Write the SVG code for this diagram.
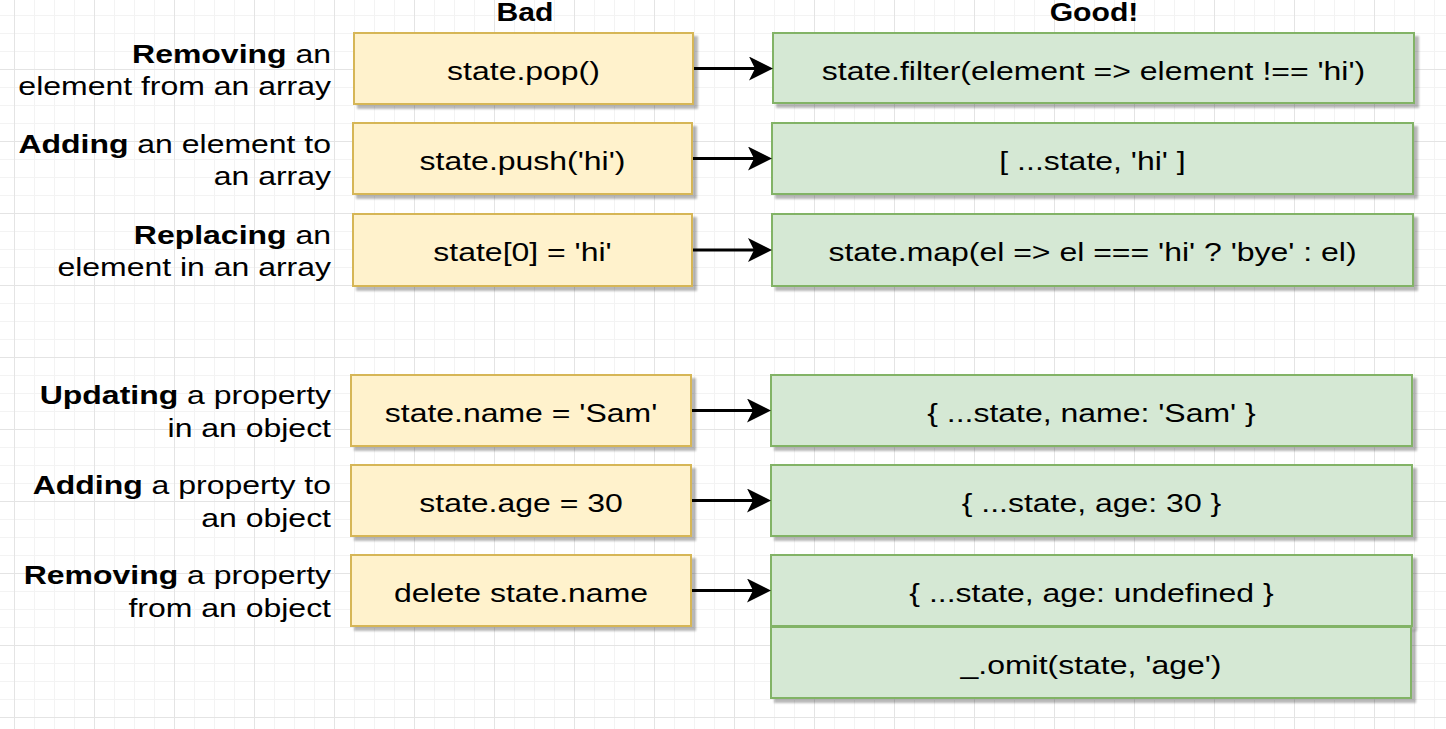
<svg xmlns="http://www.w3.org/2000/svg" width="1446" height="729" viewBox="0 0 1446 729">
  <defs>
    <pattern id="grid" x="14" y="-3" width="80" height="72" patternUnits="userSpaceOnUse">
      <g fill="#f3f3f3">
        <rect x="20" y="0" width="1" height="72"/>
        <rect x="40" y="0" width="1" height="72"/>
        <rect x="60" y="0" width="1" height="72"/>
        <rect x="0" y="18" width="80" height="1"/>
        <rect x="0" y="36" width="80" height="1"/>
        <rect x="0" y="54" width="80" height="1"/>
      </g>
      <g fill="#e4e4e4">
        <rect x="0" y="0" width="1" height="72"/>
        <rect x="0" y="0" width="80" height="1"/>
      </g>
    </pattern>
    <filter id="shadow" x="-5%" y="-10%" width="115%" height="130%">
      <feGaussianBlur in="SourceAlpha" stdDeviation="1"/>
      <feOffset dx="4" dy="4" result="off"/>
      <feComponentTransfer>
        <feFuncA type="linear" slope="0.28"/>
      </feComponentTransfer>
      <feMerge>
        <feMergeNode/>
        <feMergeNode in="SourceGraphic"/>
      </feMerge>
    </filter>
    <marker id="arrow" viewBox="0 0 24 24" markerWidth="24" markerHeight="24" refX="6" refY="12" orient="auto" markerUnits="userSpaceOnUse">
      <path d="M0,0 L24,12 L0,24 L6,12 Z" fill="#000"/>
    </marker>
  </defs>
  <style>
    .bad { fill: #fff2cc; stroke: #d6b656; stroke-width: 2; filter: url(#shadow); }
    .good { fill: #d5e8d4; stroke: #82b366; stroke-width: 2; filter: url(#shadow); }
    text { font-family: "Liberation Sans", Arial, Helvetica, sans-serif; font-size: 26px; fill: #000; }
    .c { text-anchor: middle; }
    .lbl { text-anchor: end; }
    .b { font-weight: bold; }
    .conn line { stroke: #000; stroke-width: 3; marker-end: url(#arrow); }
  </style>

  <rect x="0" y="0" width="1446" height="729" fill="#ffffff"/>
  <rect x="0" y="0" width="1446" height="729" fill="url(#grid)"/>

  <!-- column headings -->
  <g id="heading-bad">
    <text class="c b" transform="translate(525 21) scale(1.16 1)">Bad</text>
  </g>
  <g id="heading-good">
    <text class="c b" transform="translate(1094 21) scale(1.16 1)">Good!</text>
  </g>

  <!-- row labels -->
  <g id="label-remove-element">
    <text class="lbl" transform="translate(331 62.5) scale(1.23 1)"><tspan class="b">Removing</tspan> an<tspan x="0" dy="33">element from an array</tspan></text>
  </g>
  <g id="label-add-element">
    <text class="lbl" transform="translate(331 152.5) scale(1.23 1)"><tspan class="b">Adding</tspan> an element to<tspan x="0" dy="33">an array</tspan></text>
  </g>
  <g id="label-replace-element">
    <text class="lbl" transform="translate(331 243.5) scale(1.23 1)"><tspan class="b">Replacing</tspan> an<tspan x="0" dy="33">element in an array</tspan></text>
  </g>
  <g id="label-update-property">
    <text class="lbl" transform="translate(331 404) scale(1.23 1)"><tspan class="b">Updating</tspan> a property<tspan x="0" dy="33">in an object</tspan></text>
  </g>
  <g id="label-add-property">
    <text class="lbl" transform="translate(331 494) scale(1.23 1)"><tspan class="b">Adding</tspan> a property to<tspan x="0" dy="33">an object</tspan></text>
  </g>
  <g id="label-remove-property">
    <text class="lbl" transform="translate(331 584) scale(1.23 1)"><tspan class="b">Removing</tspan> a property<tspan x="0" dy="33">from an object</tspan></text>
  </g>

  <!-- mutating operations -->
  <g id="bad-pop">
    <rect class="bad" x="354" y="33" width="339" height="71"/>
    <text class="c" transform="translate(523.5 79.5) scale(1.23 1)">state.pop()</text>
  </g>
  <g id="bad-push">
    <rect class="bad" x="353" y="123" width="339" height="71"/>
    <text class="c" transform="translate(522.5 169.5) scale(1.23 1)">state.push('hi')</text>
  </g>
  <g id="bad-index">
    <rect class="bad" x="353" y="214" width="339" height="72"/>
    <text class="c" transform="translate(522.5 261) scale(1.23 1)">state[0] = 'hi'</text>
  </g>
  <g id="bad-assign-name">
    <rect class="bad" x="351" y="375" width="340" height="71"/>
    <text class="c" transform="translate(521 421.5) scale(1.23 1)">state.name = 'Sam'</text>
  </g>
  <g id="bad-assign-age">
    <rect class="bad" x="351" y="465" width="340" height="71"/>
    <text class="c" transform="translate(521 511.5) scale(1.23 1)">state.age = 30</text>
  </g>
  <g id="bad-delete">
    <rect class="bad" x="351" y="555" width="340" height="71"/>
    <text class="c" transform="translate(521 601.5) scale(1.23 1)">delete state.name</text>
  </g>

  <!-- immutable equivalents -->
  <g id="good-filter">
    <rect class="good" x="773" y="33" width="641" height="70"/>
    <text class="c" transform="translate(1093.5 79.5) scale(1.23 1)">state.filter(element =&gt; element !== 'hi')</text>
  </g>
  <g id="good-spread-array">
    <rect class="good" x="772" y="123" width="641" height="71"/>
    <text class="c" transform="translate(1092.5 169.5) scale(1.23 1)">[ ...state, 'hi' ]</text>
  </g>
  <g id="good-map">
    <rect class="good" x="772" y="214" width="641" height="72"/>
    <text class="c" transform="translate(1092.5 261) scale(1.23 1)">state.map(el =&gt; el === 'hi' ? 'bye' : el)</text>
  </g>
  <g id="good-spread-name">
    <rect class="good" x="771" y="375" width="641" height="71"/>
    <text class="c" transform="translate(1091.5 421.5) scale(1.23 1)">{ ...state, name: 'Sam' }</text>
  </g>
  <g id="good-spread-age">
    <rect class="good" x="771" y="465" width="641" height="71"/>
    <text class="c" transform="translate(1091.5 511.5) scale(1.23 1)">{ ...state, age: 30 }</text>
  </g>
  <g id="good-undefined">
    <rect class="good" x="771" y="555" width="641" height="71"/>
    <text class="c" transform="translate(1091.5 601.5) scale(1.23 1)">{ ...state, age: undefined }</text>
  </g>
  <g id="good-omit">
    <rect class="good" x="771" y="627" width="640" height="71"/>
    <text class="c" transform="translate(1091 673.5) scale(1.23 1)">_.omit(state, 'age')</text>
  </g>

  <!-- arrows from each mutation to its replacement -->
  <g id="connectors" class="conn">
    <line x1="694" y1="68.5" x2="755" y2="68.5"/>
    <line x1="693" y1="158.5" x2="754" y2="158.5"/>
    <line x1="693" y1="250" x2="754" y2="250"/>
    <line x1="692" y1="410.5" x2="753" y2="410.5"/>
    <line x1="692" y1="500.5" x2="753" y2="500.5"/>
    <line x1="692" y1="590.5" x2="753" y2="590.5"/>
  </g>
</svg>
